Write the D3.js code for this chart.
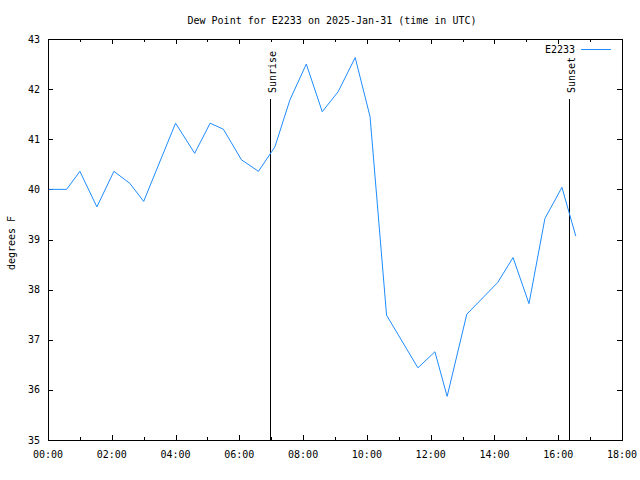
<!DOCTYPE html>
<html>
<head>
<meta charset="utf-8">
<script src="https://cdn.jsdelivr.net/npm/d3@7"></script>
<style>
  html, body { margin: 0; padding: 0; background: #fff; }
  svg { display: block; }
  text { font-family: "DejaVu Sans Mono", "Liberation Mono", monospace; font-size: 10px; fill: #000; }
</style>
</head>
<body>
<svg id="chart" width="640" height="480"></svg>
<script>
// ---- data ----
const obsTimes = ["00:02","00:35","01:00","01:32","02:04","02:34","03:00","04:00","04:36","05:05","05:30","06:04","06:36","07:07","07:35","08:06","08:36","09:06","09:38","10:06","10:37","11:36","12:08","12:31","13:08","14:06","14:35","15:05","15:35","16:07","16:33"];
const dewPoint = [40.0,40.0,40.36,39.65,40.36,40.12,39.76,41.32,40.72,41.32,41.2,40.59,40.36,40.85,41.78,42.5,41.55,41.95,42.63,41.45,37.49,36.44,36.76,35.87,37.51,38.14,38.64,37.72,39.42,40.04,39.07];
const xTickLabels = ["00:00","02:00","04:00","06:00","08:00","10:00","12:00","14:00","16:00","18:00"];
const yTickValues = [35,36,37,38,39,40,41,42,43];
const sunEvents = [{label:"Sunrise", time:"06:58"}, {label:"Sunset", time:"16:21"}];
const seriesName = "E2233";
const titleText = "Dew Point for E2233 on 2025-Jan-31 (time in UTC)";
const yLabel = "degrees F";

const toHours = s => { const [h,m] = s.split(":").map(Number); return h + m/60; };

const L = 48, R = 622, T = 39, B = 440;
const svg = d3.select("#chart");
const x = d3.scaleLinear().domain([0,18]).range([L,R]);
const y = d3.scaleLinear().domain([35,43]).range([B,T]);
const color = "#1e8cff";

const data = obsTimes.map((t,i) => ({h: toHours(t), v: dewPoint[i]}));

// ticks
const g = svg.append("g").attr("shape-rendering","crispEdges").attr("stroke","#000").attr("stroke-width",1);
const majorX = xTickLabels.map(toHours);
const minorX = d3.range(1,18,2);
majorX.forEach(h => {
  g.append("line").attr("x1",x(h)+0.5).attr("x2",x(h)+0.5).attr("y1",B).attr("y2",B-5);
  g.append("line").attr("x1",x(h)+0.5).attr("x2",x(h)+0.5).attr("y1",T).attr("y2",T+5);
});
minorX.forEach(h => {
  g.append("line").attr("x1",x(h)+0.5).attr("x2",x(h)+0.5).attr("y1",B).attr("y2",B-3);
  g.append("line").attr("x1",x(h)+0.5).attr("x2",x(h)+0.5).attr("y1",T).attr("y2",T+3);
});
yTickValues.forEach(v => {
  g.append("line").attr("x1",L).attr("x2",L+5).attr("y1",y(v)+0.5).attr("y2",y(v)+0.5);
  g.append("line").attr("x1",R).attr("x2",R-5).attr("y1",y(v)+0.5).attr("y2",y(v)+0.5);
});

// tick labels
xTickLabels.forEach(s => {
  svg.append("text").attr("x",x(toHours(s))).attr("y",454).attr("dy","0.35em").attr("text-anchor","middle").text(s);
});
yTickValues.forEach(v => {
  svg.append("text").attr("x",40).attr("y",y(v)).attr("dy","0.35em").attr("text-anchor","end").text(v);
});

// sunrise / sunset
sunEvents.forEach(e => {
  const xx = Math.round(x(toHours(e.time))) + 0.5;
  svg.append("line").attr("x1",xx).attr("x2",xx).attr("y1",99).attr("y2",B)
    .attr("stroke","#000").attr("shape-rendering","crispEdges");
  svg.append("text").attr("transform",`translate(${xx+1.5},93) rotate(-90)`)
    .attr("dy","0.35em").attr("text-anchor","start").text(e.label);
});

// data line
const line = d3.line().x(d => x(d.h)).y(d => y(d.v));
svg.append("path").datum(data).attr("d",line).attr("fill","none")
  .attr("stroke",color).attr("stroke-width",1);

// frame
svg.append("rect").attr("x",L+0.5).attr("y",T+0.5).attr("width",R-L).attr("height",B-T)
  .attr("fill","none").attr("stroke","#000").attr("shape-rendering","crispEdges");

// legend
svg.append("text").attr("x",575).attr("y",49).attr("dy","0.35em").attr("text-anchor","end").text(seriesName);
svg.append("line").attr("x1",581).attr("x2",611).attr("y1",49.5).attr("y2",49.5)
  .attr("stroke",color).attr("shape-rendering","crispEdges");

// title and axis label
svg.append("text").attr("x",332).attr("y",20).attr("dy","0.35em").attr("text-anchor","middle").text(titleText);
svg.append("text").attr("transform","translate(11,243) rotate(-90)").attr("dy","0.35em")
  .attr("text-anchor","middle").text(yLabel);
</script>
</body>
</html>
